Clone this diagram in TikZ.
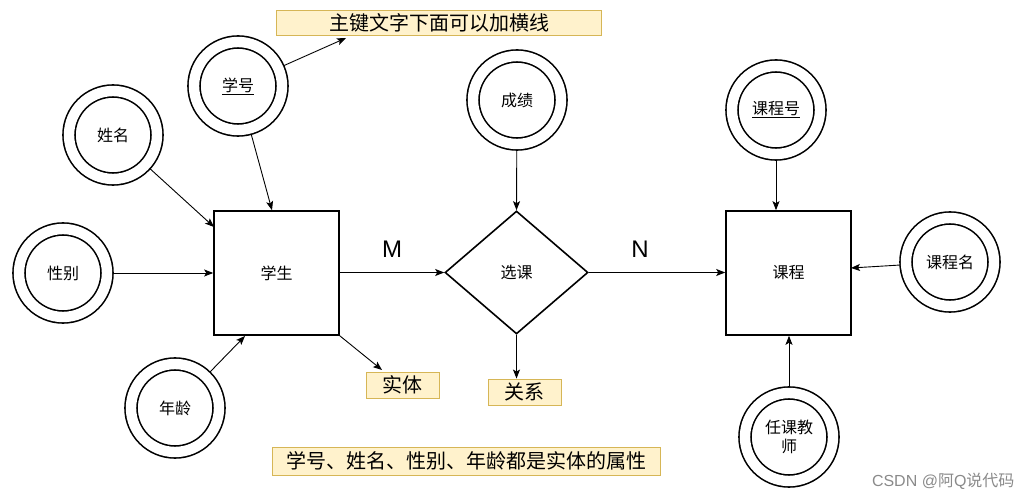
\documentclass[tikz,border=0pt]{standalone}
\usepackage{fontspec}
\setmainfont{Liberation Sans}
\newfontfamily\cjk{Noto Sans CJK SC}
\usetikzlibrary{arrows.meta,shapes.geometric}
\definecolor{notefill}{HTML}{FFF2CC}
\definecolor{noteline}{HTML}{D6B656}
\definecolor{wmgray}{HTML}{8A8A8A}
\tikzset{
  ent/.style={draw=black,line width=1.6pt,minimum width=125pt,minimum height=124pt,inner sep=0pt,font=\cjk\fontsize{16}{19}\selectfont},
  rel/.style={draw=black,line width=1.6pt,diamond,minimum width=143pt,minimum height=123pt,inner sep=0pt,font=\cjk\fontsize{16}{19}\selectfont},
  attr/.style={circle,draw=black,line width=1.6pt,minimum size=88pt,inner sep=0pt,double=white,double distance=10.4pt,outer sep=6pt,font=\cjk\fontsize{16}{19}\selectfont,align=center},
  note/.style={draw=noteline,fill=notefill,line width=0.9pt,inner sep=0pt,font=\cjk\fontsize{20}{24}\selectfont},
  conn/.style={draw=black,line width=0.9pt,-{Stealth[length=9pt,width=7pt,inset=2pt]}},
  card/.style={font=\fontsize{24}{28}\selectfont}
}
\begin{document}
\begin{tikzpicture}[x=1pt,y=-1pt]
\useasboundingbox (0,0) rectangle (1033,502);
% entities and relation
\node[ent] (stu) at (276.5,273) {学生};
\node[rel] (xk) at (516.5,272.5) {选课};
\node[ent] (kc) at (788.5,273) {课程};
% attributes
\node[attr] (xh) at (238,86) {\underline{学号}};
\node[attr] (xm) at (113,135) {姓名};
\node[attr] (xb) at (63,273) {性别};
\node[attr] (nl) at (175,408) {年龄};
\node[attr] (cj) at (517,100) {成绩};
\node[attr] (kch) at (776,110) {\underline{课程号}};
\node[attr] (kcm) at (950,262) {课程名};
\node[attr] (js) at (789,437) {任课教\\师};
% notes
\node[note,minimum width=325pt,minimum height=25pt] (n1) at (439,23) {主键文字下面可以加横线};
\node[note,minimum width=73pt,minimum height=26pt] (n2) at (402.5,385) {实体};
\node[note,minimum width=73pt,minimum height=26pt] (n3) at (524.5,392) {关系};
\node[note,minimum width=388pt,minimum height=28pt] (n4) at (466,461) {学号、姓名、性别、年龄都是实体的属性};
% helper coordinates
\coordinate (n1a) at (346,38);
\coordinate (n2a) at (382,370);
% connectors
\draw[conn] (xh) -- (n1a);
\draw[conn] (xh) -- (stu.north -| 272,0);
\draw[conn] (xm) -- (214,227);
\draw[conn] (xb) -- (stu.west |- xb);
\draw[conn] (nl) -- (245,336);
\draw[conn] (stu.south east) -- (n2a);
\draw[conn] (stu.east |- xk) -- (xk.west);
\draw[conn] (xk.east) -- (kc.west |- xk);
\draw[conn] (cj) -- (xk.north);
\draw[conn] (xk.south) -- (n3.north -| xk);
\draw[conn] (kch) -- (kc.north -| kch);
\draw[conn] (kcm) -- (851,268);
\draw[conn] (js) -- (kc.south -| js);
% cardinalities
\node[card] (m) at (392,249) {M};
\node[card] (n) at (640,249) {N};
% footer
\node[text=wmgray,font=\fontsize{16}{19}\selectfont,anchor=east] (csdn) at (1018,481) {CSDN @{\cjk 阿}Q{\cjk 说代码}};
\end{tikzpicture}
\end{document}
